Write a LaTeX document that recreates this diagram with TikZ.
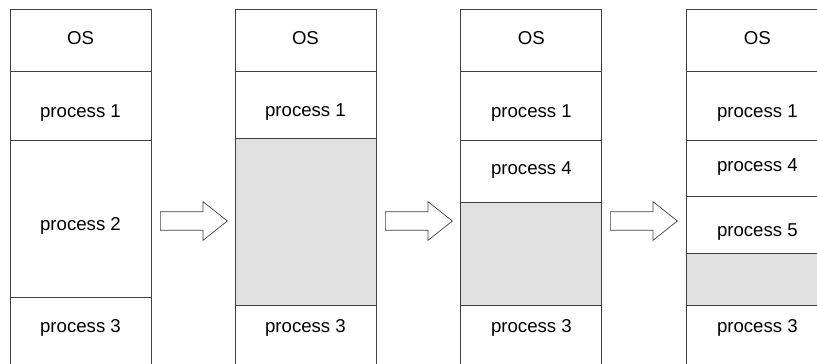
\documentclass[tikz,border=0pt]{standalone}
\usepackage{fontspec}
\setmainfont{Liberation Sans}
\usepackage{tikz}
\usetikzlibrary{positioning, shapes.arrows}
\definecolor{holegray}{RGB}{225,225,225}
\tikzstyle{seg} = [rectangle, minimum width=2.82cm, text centered, draw=black!75, line width=0.5pt, outer sep=0pt, inner sep=2pt, font=\fontsize{10.6pt}{12pt}\selectfont, text height=16pt, text depth=2pt]
\tikzstyle{ostop} = [seg, minimum height=1.24cm, text height=7.6pt, text depth=3pt]
\tikzstyle{upper} = [seg, text height=7.6pt, text depth=4pt]
\tikzstyle{hole} = [seg, fill=holegray]
\tikzstyle{tail} = [seg, text height=7.4pt, text depth=26.8pt]
\tikzstyle{move} = [single arrow, draw=black!75, line width=0.4pt, minimum height=1.34cm, inner xsep=0pt, inner ysep=0.18cm, single arrow head extend=0.2cm, single arrow tip angle=77, anchor=tail]

\begin{document}
\begin{tikzpicture}[x=0.02cm, y=-0.02cm, node distance=0pt]
	\useasboundingbox (0,0) rectangle (817,364);
	\clip (0,0) rectangle (817,364);

	% first column
	\node(os_a) [ostop] at (80.5,40) {OS};
	\node(p1_a) [seg, minimum height=1.38cm, below=of os_a] {process 1};
	\node(p2_a) [seg, minimum height=3.14cm, below=of p1_a] {process 2};
	\node(p3_a) [tail, minimum height=2.12cm, below=of p2_a] {process 3};

	% second column
	\node(os_b) [ostop, right=1.68cm of os_a] {OS};
	\node(p1_b) [seg, minimum height=1.34cm, below=of os_b] {process 1};
	\node(hole_b) [hole, minimum height=3.34cm, below=of p1_b] {};
	\node(p3_b) [tail, minimum height=1.8cm, below=of hole_b] {process 3};

	% third column
	\node(os_c) [ostop, right=1.7cm of os_b] {OS};
	\node(p1_c) [seg, minimum height=1.38cm, below=of os_c] {process 1};
	\node(p4_c) [upper, minimum height=1.24cm, below=of p1_c] {process 4};
	\node(hole_c) [hole, minimum height=2.06cm, below=of p4_c] {};
	\node(p3_c) [tail, minimum height=1.8cm, below=of hole_c] {process 3};

	% fourth column
	\node(os_d) [ostop, right=1.7cm of os_c] {OS};
	\node(p1_d) [seg, minimum height=1.38cm, below=of os_d] {process 1};
	\node(p4_d) [upper, minimum height=1.12cm, below=of p1_d] {process 4};
	\node(p5_d) [seg, minimum height=1.14cm, below=of p4_d] {process 5};
	\node(hole_d) [hole, minimum height=1.04cm, below=of p5_d] {};
	\node(p3_d) [tail, minimum height=1.8cm, below=of hole_d] {process 3};

	% arrows between the columns
	\node(arr_ab) [move] at (160,221) {};
	\node(arr_bc) [move] at (385,221) {};
	\node(arr_cd) [move] at (610,221) {};
\end{tikzpicture}
\end{document}
